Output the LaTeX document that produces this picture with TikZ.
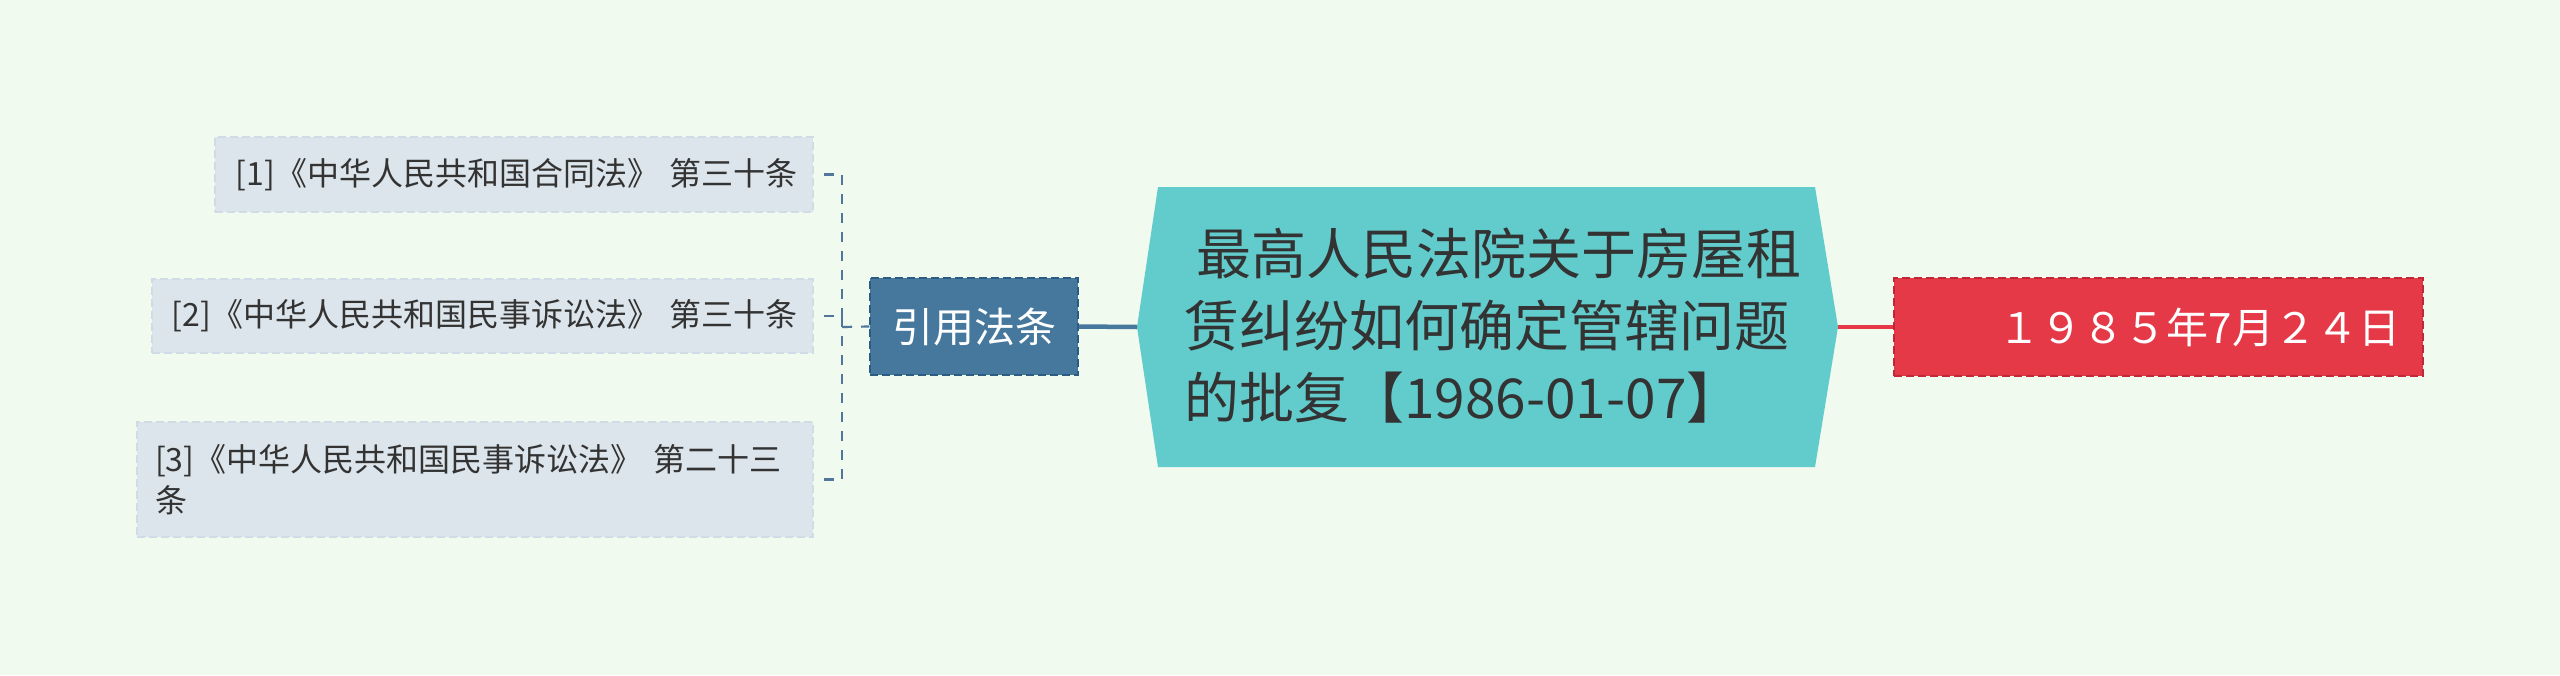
\documentclass[tikz,border=0pt]{standalone}
\usepackage{fontspec}
\newfontfamily\cjk{Noto Sans CJK SC}
\definecolor{bgc}{RGB}{240,250,239}
\definecolor{mainfill}{RGB}{98,203,204}
\definecolor{leaffill}{RGB}{220,229,235}
\definecolor{leafdraw}{RGB}{208,220,229}
\definecolor{lawfill}{RGB}{69,120,156}
\definecolor{lawdraw}{RGB}{45,92,130}
\definecolor{redfill}{RGB}{230,57,72}
\definecolor{reddraw}{RGB}{190,40,55}
\definecolor{txt}{RGB}{51,51,51}
\definecolor{connc}{RGB}{80,118,155}
\tikzset{
  leaf/.style={fill=leaffill, draw=leafdraw, dash pattern=on 8pt off 4pt, line width=1.5pt,
    text=txt, font=\cjk\fontsize{32}{41}\selectfont, inner ysep=0pt},
  conn/.style={draw=connc, line width=2.2pt, dash pattern=on 10pt off 9pt},
}
\begin{document}
\begin{tikzpicture}[x=1pt,y=-1pt]
\fill[bgc] (0,0) rectangle (2560,675);
\useasboundingbox (0,0) rectangle (2560,675);
% central hexagon
\fill[mainfill] (1158,187) -- (1815,187) -- (1838,327) -- (1815,467) -- (1158,467) -- (1137,327) -- cycle;
\coordinate (mainL) at (1137,327);
\coordinate (mainR) at (1838,327);
\node[anchor=west, inner sep=0pt, align=left, text=txt, font=\cjk\fontsize{55}{72}\selectfont] (main) at (1184,326)
  {\ 最高人民法院关于房屋租\\赁纠纷如何确定管辖问题\\的批复【1986-01-07】};
% law node
\node[fill=lawfill, draw=lawdraw, dash pattern=on 8pt off 4pt, line width=1.5pt,
  minimum width=208pt, minimum height=97pt, inner sep=0pt, text=white,
  font=\cjk\fontsize{41}{48}\selectfont] (law) at (974,326.5) {引用法条};
% date node
\node[fill=redfill, draw=reddraw, dash pattern=on 8pt off 4pt, line width=1.5pt,
  minimum height=98pt, text width=483pt, inner xsep=23pt, inner ysep=0pt, align=right, text=white,
  font=\cjk\fontsize{42}{48}\selectfont] (date) at (2158.5,327) {１９８５年7月２４日};
% leaves
\node[leaf, minimum height=75pt, text width=584pt, inner xsep=7pt, align=right] (b1) at (514,174.5)
  {[1]《中华人民共和国合同法》 第三十条\hspace*{8pt}};
\node[leaf, minimum height=74pt, text width=647pt, inner xsep=7pt, align=right] (b2) at (482.5,316)
  {[2]《中华人民共和国民事诉讼法》 第三十条\hspace*{8pt}};
\node[leaf, minimum height=115pt, text width=640pt, inner xsep=18pt, align=left] (b3) at (475,479.5)
  {[3]《中华人民共和国民事诉讼法》 第二十三\\条};
% connectors
\coordinate (j) at (842,327);
\draw[conn] ([xshift=10pt]b1.east) -| (j);
\draw[conn] ([xshift=10pt]b2.east) -| (j);
\draw[conn] ([xshift=10pt]b3.east) -| (j);
\draw[conn] (j) -- (law.west);
\draw[draw=lawfill, line width=4.5pt] (law.east) -- (mainL);
\draw[draw=redfill, line width=4.5pt] (mainR) -- (date.west);
\end{tikzpicture}
\end{document}
